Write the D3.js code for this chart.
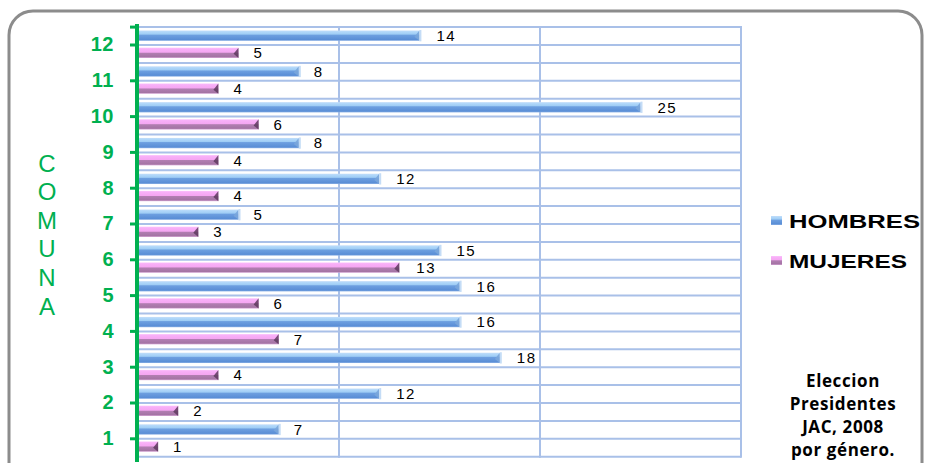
<!DOCTYPE html>
<html><head><meta charset="utf-8">
<script src="https://cdn.jsdelivr.net/npm/d3@7"></script>
<style>
html,body{margin:0;padding:0;background:#fff;}
svg{display:block;}
</style></head>
<body>
<svg id="chart" width="926" height="463"></svg>
<script>
const comunas = ["1","2","3","4","5","6","7","8","9","10","11","12"];
const hombres = [7,12,18,16,16,15,5,12,8,25,8,14];
const mujeres = [1,2,4,7,6,13,3,4,4,6,4,5];
const seriesNames = ["HOMBRES","MUJERES"];
const axisTitle = ["C","O","M","U","N","A"];
const noteLines = ["Eleccion","Presidentes","JAC, 2008","por género."];
const xMax = 30;

const svg = d3.select("#chart");
const green = "#00b050";
const grid = "#a9c0e8";

// frame
svg.append("rect").attr("x",9).attr("y",11).attr("width",913).attr("height",480)
  .attr("rx",24).attr("fill","#fff").attr("stroke","#8c8c8c").attr("stroke-width",3);

const defs = svg.append("defs");
function grad(id, stops){
  const g = defs.append("linearGradient").attr("id",id).attr("x1",0).attr("y1",0).attr("x2",0).attr("y2",1);
  stops.forEach(s=>g.append("stop").attr("offset",s[0]).attr("stop-color",s[1]));
}
grad("gH",[["0%","#c4ddf8"],["12%","#b2d8fa"],["35%","#9fcdf5"],["45%","#6d9fe0"],["88%","#5a8ed6"],["100%","#8fb3e6"]]);
grad("gM",[["0%","#fcc4fc"],["12%","#f8b0f8"],["45%","#f5a6f2"],["52%","#b27eb2"],["88%","#a474a4"],["100%","#d8a8d8"]]);

const x0 = 138;
const x = d3.scaleLinear().domain([0,xMax]).range([x0,741]);
const y = d3.scaleBand().domain(comunas.slice().reverse()).range([27.1,456.7]).padding(0);
const yi = d3.scaleBand().domain(seriesNames).range([0,y.bandwidth()-1.5]).paddingInner(0.40).paddingOuter(0.2);

// horizontal gridlines (category boundaries and midpoints)
const hLines = [];
comunas.forEach(c=>{hLines.push(y(c)); hLines.push(y(c)+y.bandwidth()/2);});
hLines.push(y.range()[1]);
svg.append("g").selectAll("line").data(hLines).join("line")
  .attr("x1",x0).attr("x2",x(xMax)).attr("y1",d=>d).attr("y2",d=>d)
  .attr("stroke",grid).attr("stroke-width",2);
// vertical gridlines
svg.append("g").selectAll("line").data(x.ticks(3).filter(d=>d>0)).join("line")
  .attr("x1",d=>x(d)).attr("x2",d=>x(d)).attr("y1",y.range()[0]-1).attr("y2",y.range()[1]+1)
  .attr("stroke",grid).attr("stroke-width",2);

const rows = comunas.map((c,i)=>({c, h:hombres[i], m:mujeres[i]}));
const data = [];
rows.forEach(r=>{data.push({c:r.c,s:"HOMBRES",v:r.h}); data.push({c:r.c,s:"MUJERES",v:r.m});});

const bars = svg.append("g");
const bh = yi.bandwidth();
const by = d=>y(d.c)+yi(d.s);
bars.selectAll("rect.bar").data(data).join("rect").attr("class","bar")
  .attr("x",x0).attr("y",d=>by(d)).attr("height",bh)
  .attr("width",d=>x(d.v)-x0)
  .attr("fill",d=>d.s==="HOMBRES"?"url(#gH)":"url(#gM)");
// end caps
bars.selectAll("path.cap").data(data).join("path").attr("class","cap")
  .attr("d",d=>{
    const xe = x(d.v), yt = by(d);
    return `M${xe},${yt} L${xe},${yt+bh} L${xe-5},${yt+bh*0.6} Z`;
  })
  .attr("fill",d=>d.s==="HOMBRES"?"#7aa6dc":"#5e3a5e").attr("opacity",d=>d.s==="HOMBRES"?0.9:0.85);
bars.selectAll("rect.capH").data(data.filter(d=>d.s==="HOMBRES")).join("rect").attr("class","capH")
  .attr("x",d=>x(d.v)).attr("y",d=>by(d)-0.5).attr("width",2).attr("height",bh+1)
  .attr("fill","#c4dcf6");

// value labels
svg.append("g").selectAll("text").data(data).join("text")
  .attr("x",d=>x(d.v)+15+(String(d.v).length-1)*2)
  .attr("y",d=>by(d)+bh/2)
  .attr("dy","0.36em")
  .attr("font-family","Liberation Sans, Arial, sans-serif")
  .attr("font-size",15).attr("letter-spacing",1.5).attr("fill","#000")
  .text(d=>d.v);

// category axis
const yAxis = d3.axisLeft(y).tickSize(7).tickPadding(16);
const ag = svg.append("g").attr("transform",`translate(${x0-1},0)`).call(yAxis);
ag.select(".domain").remove();
ag.selectAll(".tick line").attr("stroke",green).attr("stroke-width",3);
ag.selectAll(".tick text").attr("fill",green).attr("font-family","Liberation Sans, Arial, sans-serif")
  .attr("font-weight","bold").attr("font-size",20).attr("letter-spacing",0.5);
svg.append("line").attr("x1",x0-1).attr("x2",x0-1).attr("y1",24).attr("y2",462)
  .attr("stroke",green).attr("stroke-width",4);
svg.append("line").attr("x1",x0-8).attr("x2",x0-1).attr("y1",y.range()[0]).attr("y2",y.range()[0])
  .attr("stroke",green).attr("stroke-width",3);

// axis title vertical letters
svg.append("g").selectAll("text").data(axisTitle).join("text")
  .attr("x",47).attr("y",(d,i)=>163+i*28.6).attr("dy","0.36em")
  .attr("text-anchor","middle").attr("fill",green)
  .attr("font-family","Liberation Sans, Arial, sans-serif").attr("font-size",24)
  .text(d=>d);

// legend
const lg = svg.append("g");
const legY = [221,261];
lg.selectAll("rect").data(seriesNames).join("rect")
  .attr("x",771).attr("y",(d,i)=>legY[i]-5).attr("width",11).attr("height",9)
  .attr("fill",(d,i)=>i===0?"url(#gH)":"url(#gM)");
lg.selectAll("text").data(seriesNames).join("text")
  .attr("x",789).attr("y",(d,i)=>legY[i]).attr("dy","0.36em")
  .attr("font-family","Liberation Sans, Arial, sans-serif").attr("font-weight","bold")
  .attr("font-size",19).attr("fill","#000")
  .attr("textLength",(d,i)=>i===0?131:118).attr("lengthAdjust","spacingAndGlyphs")
  .text(d=>d);

// note
svg.append("g").selectAll("text").data(noteLines).join("text")
  .attr("x",843).attr("y",(d,i)=>381+i*23).attr("dy","0.36em").attr("text-anchor","middle")
  .attr("font-family","Open Sans, sans-serif").attr("font-weight","bold").attr("font-size",17)
  .attr("letter-spacing",0.6)
  .attr("fill","#000").text(d=>d);
</script>
</body></html>
